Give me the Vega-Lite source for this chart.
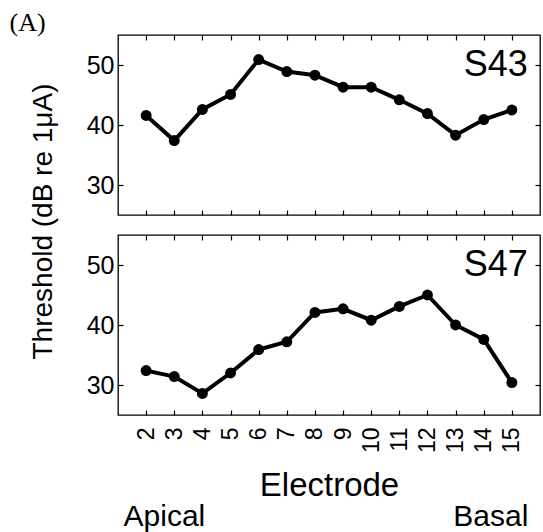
{
  "$schema": "https://vega.github.io/schema/vega-lite/v6.json",
  "padding": {"left": 9, "top": 9, "right": 4, "bottom": 0},
  "config": {
    "font": "Liberation Sans",
    "view": {"stroke": "black", "strokeWidth": 1.3},
    "axis": {"grid": false, "domain": false, "tickColor": "black", "labelColor": "black", "titleColor": "black", "tickWidth": 1.2, "tickSize": -5, "labelFontSize": 25, "titleFontWeight": "normal"}
  },
  "title": {"text": "(A)", "anchor": "start", "frame": "bounds", "font": "Liberation Serif", "fontSize": 26, "fontWeight": "normal", "color": "black", "dx": -19, "offset": -2},
  "datasets": {
    "thr": [
      {"subject": "S43", "electrode": 2, "threshold": 41.6},
      {"subject": "S43", "electrode": 3, "threshold": 37.4},
      {"subject": "S43", "electrode": 4, "threshold": 42.6},
      {"subject": "S43", "electrode": 5, "threshold": 45.1},
      {"subject": "S43", "electrode": 6, "threshold": 50.9},
      {"subject": "S43", "electrode": 7, "threshold": 48.9},
      {"subject": "S43", "electrode": 8, "threshold": 48.3},
      {"subject": "S43", "electrode": 9, "threshold": 46.3},
      {"subject": "S43", "electrode": 10, "threshold": 46.3},
      {"subject": "S43", "electrode": 11, "threshold": 44.2},
      {"subject": "S43", "electrode": 12, "threshold": 41.9},
      {"subject": "S43", "electrode": 13, "threshold": 38.3},
      {"subject": "S43", "electrode": 14, "threshold": 40.9},
      {"subject": "S43", "electrode": 15, "threshold": 42.5},
      {"subject": "S47", "electrode": 2, "threshold": 32.4},
      {"subject": "S47", "electrode": 3, "threshold": 31.4},
      {"subject": "S47", "electrode": 4, "threshold": 28.6},
      {"subject": "S47", "electrode": 5, "threshold": 32.0},
      {"subject": "S47", "electrode": 6, "threshold": 35.9},
      {"subject": "S47", "electrode": 7, "threshold": 37.2},
      {"subject": "S47", "electrode": 8, "threshold": 42.1},
      {"subject": "S47", "electrode": 9, "threshold": 42.7},
      {"subject": "S47", "electrode": 10, "threshold": 40.8},
      {"subject": "S47", "electrode": 11, "threshold": 43.1},
      {"subject": "S47", "electrode": 12, "threshold": 45.0},
      {"subject": "S47", "electrode": 13, "threshold": 40.0},
      {"subject": "S47", "electrode": 14, "threshold": 37.6},
      {"subject": "S47", "electrode": 15, "threshold": 30.4}
    ]
  },
  "data": {"name": "thr"},
  "bounds": "flush",
  "spacing": 20,
  "vconcat": [
    {
      "width": 422, "height": 180,
      "transform": [{"filter": "datum.subject === 'S43'"}],
      "layer": [
        {
          "mark": {"type": "line", "color": "black", "strokeWidth": 4},
          "encoding": {
            "x": {"field": "electrode", "type": "quantitative", "scale": {"domain": [1, 16], "nice": false, "zero": false},
                  "axis": {"orient": "bottom", "values": [2,3,4,5,6,7,8,9,10,11,12,13,14,15], "labels": false, "title": null}},
            "y": {"field": "threshold", "type": "quantitative", "scale": {"domain": [25, 55], "nice": false, "zero": false},
                  "axis": {"orient": "left", "values": [30, 40, 50], "labelPadding": 9, "title": "Threshold (dB re 1μA)", "titleFontSize": 28, "titlePadding": 29, "titleY": 186}}
          }
        },
        {
          "mark": {"type": "point", "filled": true, "color": "black", "opacity": 1, "size": 120},
          "encoding": {
            "x": {"field": "electrode", "type": "quantitative", "axis": null},
            "y": {"field": "threshold", "type": "quantitative", "axis": null}
          }
        },
        {
          "transform": [{"filter": "datum.electrode === 15"}],
          "mark": {"type": "text", "align": "right", "baseline": "alphabetic", "fontSize": 36, "color": "black"},
          "encoding": {
            "x": {"datum": 15.57, "type": "quantitative", "axis": null},
            "y": {"datum": 48.2, "type": "quantitative", "axis": null},
            "text": {"field": "subject"}
          }
        },
        {
          "mark": {"type": "point", "opacity": 0},
          "encoding": {
            "x": {"field": "electrode", "type": "quantitative", "axis": {"orient": "top", "values": [2,3,4,5,6,7,8,9,10,11,12,13,14,15], "labels": false, "title": null}},
            "y": {"field": "threshold", "type": "quantitative", "axis": {"orient": "right", "values": [30, 40, 50], "labels": false, "title": null}}
          }
        }
      ],
      "resolve": {"axis": {"x": "independent", "y": "independent"}}
    },
    {
      "width": 422, "height": 180,
      "transform": [{"filter": "datum.subject === 'S47'"}],
      "layer": [
        {
          "mark": {"type": "line", "color": "black", "strokeWidth": 4},
          "encoding": {
            "x": {"field": "electrode", "type": "quantitative", "scale": {"domain": [1, 16], "nice": false, "zero": false},
                  "axis": {"orient": "bottom", "values": [2,3,4,5,6,7,8,9,10,11,12,13,14,15], "labelAngle": 270, "labelFontSize": 23, "labelPadding": 17, "title": "Electrode", "titleFontSize": 33, "titlePadding": 17}},
            "y": {"field": "threshold", "type": "quantitative", "scale": {"domain": [25, 55], "nice": false, "zero": false},
                  "axis": {"orient": "left", "values": [30, 40, 50], "labelPadding": 9, "title": null}}
          }
        },
        {
          "mark": {"type": "point", "filled": true, "color": "black", "opacity": 1, "size": 120},
          "encoding": {
            "x": {"field": "electrode", "type": "quantitative", "axis": null},
            "y": {"field": "threshold", "type": "quantitative", "axis": null}
          }
        },
        {
          "transform": [{"filter": "datum.electrode === 15"}],
          "mark": {"type": "text", "align": "right", "baseline": "alphabetic", "fontSize": 36, "color": "black"},
          "encoding": {
            "x": {"datum": 15.57, "type": "quantitative", "axis": null},
            "y": {"datum": 48.2, "type": "quantitative", "axis": null},
            "text": {"field": "subject"}
          }
        },
        {
          "mark": {"type": "point", "opacity": 0},
          "encoding": {
            "x": {"field": "electrode", "type": "quantitative", "axis": {"orient": "top", "values": [2,3,4,5,6,7,8,9,10,11,12,13,14,15], "labels": false, "title": null}},
            "y": {"field": "threshold", "type": "quantitative", "axis": {"orient": "right", "values": [30, 40, 50], "labels": false, "title": null}}
          }
        },
        {
          "mark": {"type": "point", "opacity": 0},
          "encoding": {
            "x": {"field": "electrode", "type": "quantitative",
                  "axis": {"orient": "bottom", "values": [1.18, 15.57], "labelExpr": "datum.value < 8 ? 'Apical' : 'Basal'",
                           "labelAlign": {"condition": {"test": "datum.value < 8", "value": "left"}, "value": "right"},
                           "ticks": false, "labelPadding": 0, "offset": 86, "labelFontSize": 30, "title": null}}
          }
        }
      ],
      "resolve": {"axis": {"x": "independent", "y": "independent"}}
    }
  ]
}
